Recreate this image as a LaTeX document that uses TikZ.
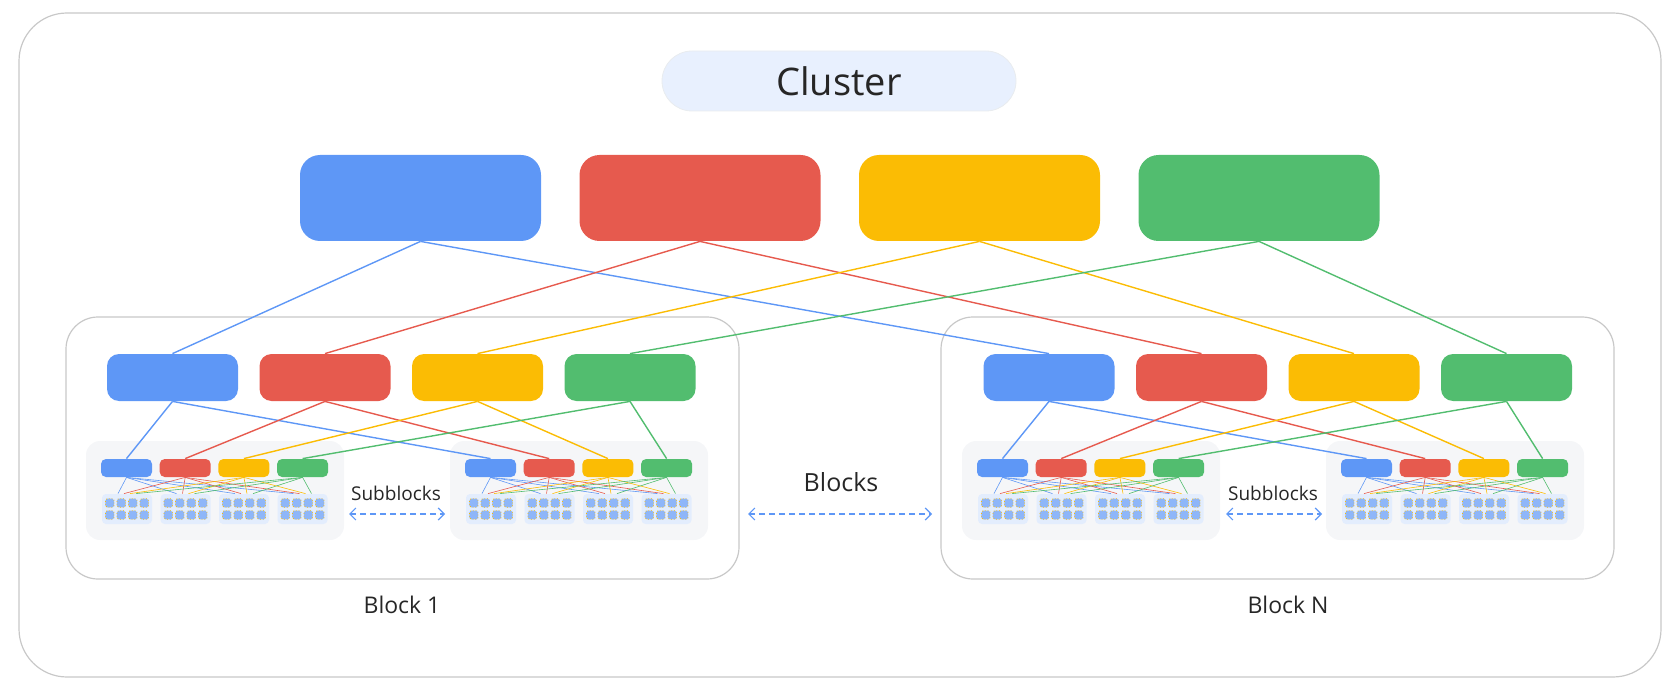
\documentclass[tikz,border=0pt]{standalone}
\usepackage{fontspec}
\setmainfont{Open Sans}
\usetikzlibrary{arrows.meta}
\definecolor{gblue}{HTML}{5E97F6}
\definecolor{gred}{HTML}{E65A4E}
\definecolor{gyellow}{HTML}{FBBC04}
\definecolor{ggreen}{HTML}{52BD6F}
\definecolor{framegray}{HTML}{C8C8C8}
\definecolor{panelfill}{HTML}{F5F6F8}
\definecolor{chipfill}{HTML}{E3EDFD}
\definecolor{pillfill}{HTML}{E8F0FE}
\pgfdeclarelayer{back}
\pgfdeclarelayer{lines}
\pgfsetlayers{back,lines,main}
\tikzset{
  spine/.style={rounded corners=10pt, minimum width=120.5pt, minimum height=43pt, inner sep=0pt},
  bsw/.style={rounded corners=6pt, minimum width=65.5pt, minimum height=23.5pt, inner sep=0pt},
  ssw/.style={rounded corners=2.5pt, minimum width=25.5pt, minimum height=9pt, inner sep=0pt},
  group/.style={fill=chipfill, rounded corners=2pt, minimum width=25pt, minimum height=15pt, inner sep=0pt},
  chip/.style={fill=gblue!70, draw=gyellow, densely dotted, line width=0.4pt, minimum size=4.3pt, inner sep=0pt, rounded corners=0.8pt},
  frame/.style={draw=framegray, line width=0.6pt, rounded corners=16pt},
  panel/.style={fill=panelfill, rounded corners=7pt},
  link/.style={line width=0.7pt},
  thin/.style={line width=0.3pt},
  span/.style={gblue, densely dashed, line width=0.6pt, {Straight Barb[length=3pt]}-{Straight Barb[length=3pt]}},
}
\begin{document}
\begin{tikzpicture}[x=0.5pt, y=-0.5pt]
\useasboundingbox (0,0) rectangle (1680,695);
% outer frame, blocks and subblock panels
\begin{pgfonlayer}{back}
\draw[frame, rounded corners=24pt] (19,13) rectangle (1661,677);
\draw[frame] (66,317) rectangle (739,579);
\draw[frame] (941,317) rectangle (1614,579);
\foreach \px in {86,450,962,1326}
  \fill[panel] (\px,441) rectangle ++(258,99);
\end{pgfonlayer}
\node (cluster) [fill=pillfill, draw=pillfill!70!gray!40, rounded corners=15pt, minimum width=177pt, minimum height=30pt, font=\fontsize{19}{22}\selectfont, text=black!85] at (839,81) {Cluster};
% spines and block switches
\foreach \c [count=\i from 0] in {gblue,gred,gyellow,ggreen} {
  \node (top\i) [spine, fill=\c] at (420.5+279.5*\i, 198) {};
  \node (ba\i) [bsw, fill=\c] at (172.5+152.5*\i, 377.5) {};
  \node (bn\i) [bsw, fill=\c] at (1049+152.5*\i, 377.5) {};
}
% subblocks: small switches and chip groups
\foreach \px [count=\p] in {86,450,962,1326} {
  \foreach \c [count=\i from 0] in {gblue,gred,gyellow,ggreen} {
    \node (s\p-\i) [ssw, fill=\c] at (\px+40.5+58.7*\i, 468) {};
    \node (g\p-\i) [group] at (\px+41+58.5*\i, 509) {};
    \foreach \cx in {-17.25,-5.75,5.75,17.25}
      \foreach \cy in {-6,6}
        \node [chip] at (\px+41+58.5*\i+\cx, 509+\cy) {};
  }
}
% connectors
\begin{pgfonlayer}{lines}
\foreach \c [count=\i from 0] in {gblue,gred,gyellow,ggreen} {
  \draw[link, \c] (top\i.south) -- (ba\i.north);
  \draw[link, \c] (top\i.south) -- (bn\i.north);
  \draw[link, \c] (ba\i.south) -- (s1-\i.north);
  \draw[link, \c] (ba\i.south) -- (s2-\i.north);
  \draw[link, \c] (bn\i.south) -- (s3-\i.north);
  \draw[link, \c] (bn\i.south) -- (s4-\i.north);
  \foreach \p in {1,2,3,4}
    \foreach \j in {0,1,2,3}
      \draw[thin, \c] (s\p-\i.south) -- ([xshift={(\i-1.5)*3pt}]g\p-\j.north);
}
\end{pgfonlayer}
% labels
\node (lblocks) [font=\fontsize{12.5}{15}\selectfont, text=black!85] at (841,482) {Blocks};
\coordinate (bl) at (748,514);
\coordinate (br) at (932,514);
\draw[span] (bl) -- (br);
\node (lsub1) [font=\fontsize{9.5}{11}\selectfont, text=black!85] at (396,493) {Subblocks};
\coordinate (sl1) at (349,514);
\coordinate (sr1) at (445,514);
\draw[span] (sl1) -- (sr1);
\node (lsub2) [font=\fontsize{9.5}{11}\selectfont, text=black!85] at (1273,493) {Subblocks};
\coordinate (sl2) at (1226,514);
\coordinate (sr2) at (1322,514);
\draw[span] (sl2) -- (sr2);
\node (lb1) [font=\fontsize{11.5}{14}\selectfont, text=black!85] at (402,605) {Block 1};
\node (lbn) [font=\fontsize{11.5}{14}\selectfont, text=black!85] at (1288,605) {Block N};
\end{tikzpicture}
\end{document}
